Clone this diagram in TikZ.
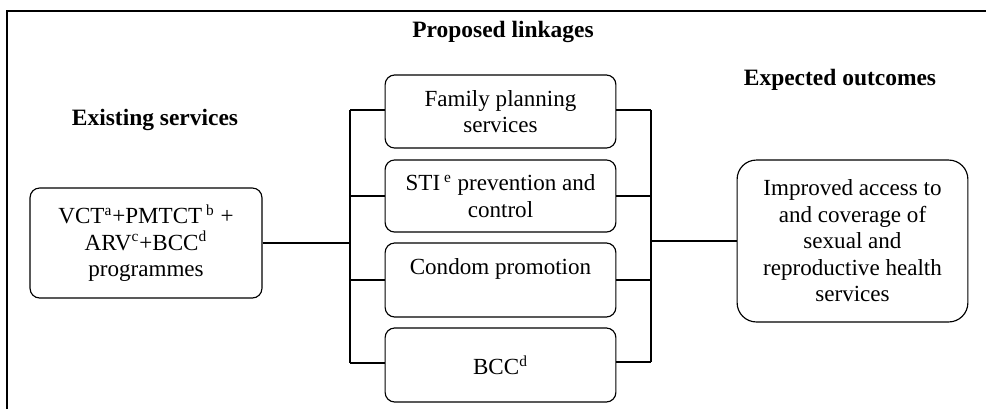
\documentclass[tikz,border=0pt]{standalone}
\usepackage{fontspec}
\setmainfont{Liberation Serif}
\usepackage{tikz}
\usetikzlibrary{positioning}

\tikzset{
  box/.style={draw, rounded corners=5pt, line width=0.6pt, align=center,
    minimum width=120pt, inner sep=2pt},
  head/.style={font=\fontsize{12.2}{14}\selectfont\bfseries, inner sep=0pt},
  link/.style={line width=0.6pt}
}

\begin{document}
\begin{tikzpicture}[x=0.52pt, y=-0.52pt, font=\fontsize{12}{13.8}\selectfont]
\useasboundingbox (0,0) rectangle (986,409);
\draw[line width=1pt] (7,409)--(7,11)--(986,11);
% headings
\node[head] (hlink) at (503,32) {Proposed linkages};
\node[head] (hexist) at (155,120) {Existing services};
\node[head] (hout) at (840,80) {Expected outcomes};
% boxes
\node[box, minimum width=120.6pt, minimum height=57.2pt] (vct) at (146,243)
  {VCT\textsuperscript{a}+PMTCT\,\textsuperscript{b} +\\ARV\textsuperscript{c}+BCC\textsuperscript{d}\\programmes};
\node[box, minimum height=38pt] (fam) at (500.5,111.5) {Family planning\\services};
\node[box, minimum height=37.5pt] (sti) at (500.5,196) {STI\,\textsuperscript{e} prevention and\\control};
\node[box, minimum height=38.5pt] (cond) at (500.5,280) {Condom promotion\\~};
\node[box, minimum height=38.5pt] (bcc) at (500.5,365) {BCC\textsuperscript{d}};
\node[box, rounded corners=10pt, minimum height=84.2pt] (out) at (852.5,241)
  {Improved access to\\and coverage of\\sexual and\\reproductive health\\services};
% bus lines
\coordinate (busL) at (350,0);
\coordinate (busR) at (651,0);
\draw[link] (vct.east) -- (vct.east -| busL);
\draw[link] (busL |- 0,110) -- (busL |- 0,363);
\draw[link] (busL |- 0,110) -- (fam.west |- 0,110);
\draw[link] (sti.west -| busL) -- (sti.west);
\draw[link] (cond.west -| busL) -- (cond.west);
\draw[link] (busL |- 0,363) -- (bcc.west |- 0,363);
\draw[link] (busR |- 0,110) -- (busR |- 0,362);
\draw[link] (fam.east |- 0,110) -- (busR |- 0,110);
\draw[link] (sti.east) -- (sti.east -| busR);
\draw[link] (cond.east) -- (cond.east -| busR);
\draw[link] (bcc.east |- 0,362) -- (busR |- 0,362);
\draw[link] (out.west -| busR) -- (out.west);
\end{tikzpicture}
\end{document}
